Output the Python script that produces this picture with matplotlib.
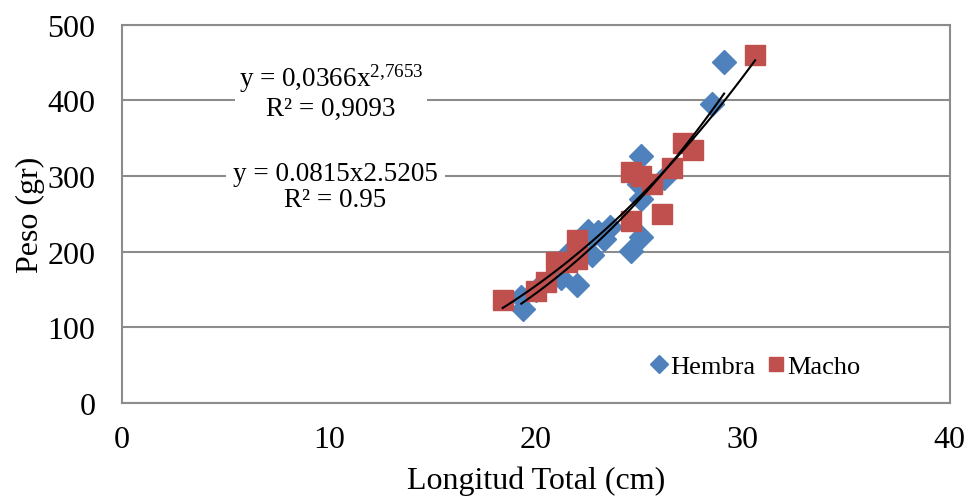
import numpy as np
import matplotlib
matplotlib.use("Agg")
import matplotlib.pyplot as plt

plt.rcParams['font.family'] = ['Liberation Serif', 'DejaVu Serif']
plt.rcParams['mathtext.fontset'] = 'custom'
plt.rcParams['mathtext.rm'] = 'Liberation Serif'
plt.rcParams['mathtext.it'] = 'Liberation Serif'

# data
hembra_x = [19.3, 19.4, 20.0, 21.2, 21.5, 22.0, 22.5, 22.7, 22.7, 23.0,
            23.3, 23.6, 24.6, 25.1, 25.1, 25.1, 25.0, 26.2, 28.5, 29.1]
hembra_y = [140, 124, 150, 165, 195, 156, 228, 195, 221, 226,
            217, 232, 201, 219, 270, 326, 290, 298, 395, 450]

macho_x = [18.4, 20.0, 20.5, 21.0, 21.5, 22.0, 22.0, 24.6, 24.6, 25.1,
           25.6, 26.1, 26.6, 27.1, 27.6, 30.6]
macho_y = [136, 148, 160, 186, 186, 215, 190, 240, 305, 300,
           289, 250, 310, 344, 335, 460]

# power trendlines as printed on the chart
hembra_a, hembra_b = 0.0366, 2.7653
macho_a, macho_b = 0.0815, 2.5205

blue = '#4F81BD'
red = '#C0504D'
grid_gray = '#8C8C8C'

fig = plt.figure(figsize=(9.68, 5.02), dpi=100)
ax = fig.add_axes([0.126, 0.195, 0.855, 0.754])

ax.plot(hembra_x, hembra_y, linestyle='none', marker='D', ms=12,
        color=blue, label='Hembra', zorder=3)
ax.plot(macho_x, macho_y, linestyle='none', marker='s', ms=14,
        color=red, label='Macho', zorder=4)

# trend curves
xh = np.linspace(min(hembra_x), max(hembra_x), 100)
xm = np.linspace(min(macho_x), max(macho_x), 100)
ax.plot(xh, hembra_a * xh ** hembra_b, color='black', lw=1.5, zorder=5)
ax.plot(xm, macho_a * xm ** macho_b, color='black', lw=1.5, zorder=5)

ax.set_xlim(0, 40)
ax.set_ylim(0, 500)
ax.set_xticks([0, 10, 20, 30, 40])
ax.set_yticks([0, 100, 200, 300, 400, 500])
ax.yaxis.grid(True, color=grid_gray, lw=1.5)
ax.set_axisbelow(True)
for s in ax.spines.values():
    s.set_color(grid_gray)
    s.set_linewidth(1.5)
ax.tick_params(length=0, labelsize=23)
ax.tick_params(axis='x', pad=16)
ax.tick_params(axis='y', pad=19)

ax.set_xlabel('Longitud Total (cm)', fontsize=23, labelpad=8)
ax.set_ylabel('Peso (gr)', fontsize=23, labelpad=2)

# trendline equations
ax.text(10.1, 412, 'y = 0,0366x$^{2{,}7653}$\nR² = 0,9093', ha='center', va='center',
        fontsize=19.5, linespacing=1.1, zorder=6,
        bbox=dict(facecolor='white', edgecolor='none', pad=3))
ax.text(10.3, 286, 'y = 0.0815x2.5205\nR² = 0.95', ha='center', va='center',
        fontsize=19.5, linespacing=1.05, zorder=6,
        bbox=dict(facecolor='white', edgecolor='none', pad=5))

ax.legend(loc='center', bbox_to_anchor=(0.765, 0.098), ncol=2, frameon=False,
          fontsize=19, handlelength=0.7, handletextpad=0.1, columnspacing=0.4,
          markerscale=0.75)

fig.savefig('out.png', dpi=100)
